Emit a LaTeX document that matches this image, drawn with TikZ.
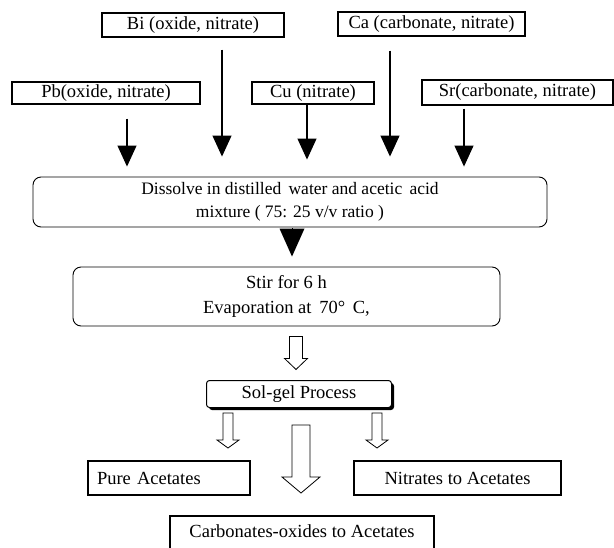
\documentclass[tikz,border=0pt]{standalone}
\usepackage{fontspec}
\setmainfont{Liberation Serif}
\usetikzlibrary{arrows.meta,calc,shadows}
\begin{document}
\begin{tikzpicture}[x=1pt,y=-1pt,
  box/.style={draw,line width=1.1pt,inner sep=0pt,font=\fontsize{18.5}{20}\selectfont},
  rbox/.style={draw,line width=0.9pt,rounded corners=8pt,inner sep=0pt,align=center},
  tarrow/.style={line width=1.1pt,-{Triangle[length=21pt,width=19pt]}},
  pics/oarrow/.style args={#1/#2/#3/#4}{code={
    \draw[line width=0.8pt,fill=white] (-#1,0) -- (-#1,#3) -- (-#2,#3) -- (0,#4) -- (#2,#3) -- (#1,#3) -- (#1,0) -- cycle;}}
]
\useasboundingbox (0,0) rectangle (614,547);
% source boxes
\node[box,minimum width=182pt,minimum height=24pt] (Bi) at (193,25) {Bi (oxide, nitrate)};
\node[box,minimum width=187pt,minimum height=24pt] (Ca) at (431.5,24) {Ca (carbonate, nitrate)};
\node[box,minimum width=188pt,minimum height=22pt] (Pb) at (106,93) {Pb(oxide, nitrate)};
\node[box,minimum width=122pt,minimum height=22pt] (Cu) at (313,93) {Cu (nitrate)};
\node[box,minimum width=191pt,minimum height=25pt] (Sr) at (517.5,92.5) {Sr(carbonate, nitrate)};
% process boxes
\node[rbox,minimum width=514pt,minimum height=50pt,font=\fontsize{17.5}{23}\selectfont] (Dis) at (290,202) {Dissolve in distilled\, water and acetic\, acid\\mixture ( 75: 25 v/v ratio )};
\node[rbox,minimum width=427pt,minimum height=59pt,font=\fontsize{18.5}{25}\selectfont] (Stir) at (286.5,296.5) {Stir for 6 h\\Evaporation at\, 70°\, C,};
\node[draw,line width=1pt,fill=white,rounded corners=3pt,minimum width=185pt,minimum height=27pt,inner sep=0pt,
  font=\fontsize{18.5}{20}\selectfont,
  drop shadow={shadow xshift=2.5pt,shadow yshift=-2.5pt,fill=black,opacity=1}] (Sol) at (299,394) {Sol-gel Process};
% products
\node[box,minimum width=162pt,minimum height=34pt,text width=144pt,align=left] (Pure) at (169,478) {Pure Acetates};
\node[box,minimum width=207pt,minimum height=34pt] (Nit) at (457.5,478) {Nitrates to Acetates};
\node[box,minimum width=264pt,minimum height=40pt,text depth=9pt] (Carb) at (302,536) {Carbonates-oxides to Acetates};
% thin arrows
\draw[tarrow] ($(Pb.south)+(21,14)$) -- ($(Pb.south |- Dis.north)+(21,-10)$);
\draw[tarrow] ($(Bi.south)+(29,12)$) -- ($(Bi.south |- Dis.north)+(29,-20)$);
\draw[tarrow] ($(Cu.south)+(-6,0)$) -- ($(Cu.south |- Dis.north)+(-6,-17)$);
\draw[tarrow] ($(Ca.south)+(-41.5,14)$) -- ($(Ca.south |- Dis.north)+(-41.5,-20)$);
\draw[tarrow] ($(Sr.south)+(-53.5,3)$) -- ($(Sr.south |- Dis.north)+(-53.5,-10)$);
% black triangle
\draw[line width=0pt,-{Triangle[length=28pt,width=25pt]}] ($(Dis.south)+(2,3)$) -- ($(Dis.south |- Stir.north)+(2,-10)$);
% open arrows
\coordinate (o1) at ($(Stir.south)+(9.5,10)$);
\pic at (o1) {oarrow={6.5/11.5/22/33}};
\coordinate (o2) at ($(Sol.south)+(-71,5)$);
\pic at (o2) {oarrow={5/11/27/35}};
\coordinate (o3) at ($(Sol.south)+(78,5)$);
\pic at (o3) {oarrow={5/11/27/35}};
\coordinate (o4) at ($(Sol.south)+(2,17)$);
\pic at (o4) {oarrow={9/19/52/68}};
\end{tikzpicture}
\end{document}
